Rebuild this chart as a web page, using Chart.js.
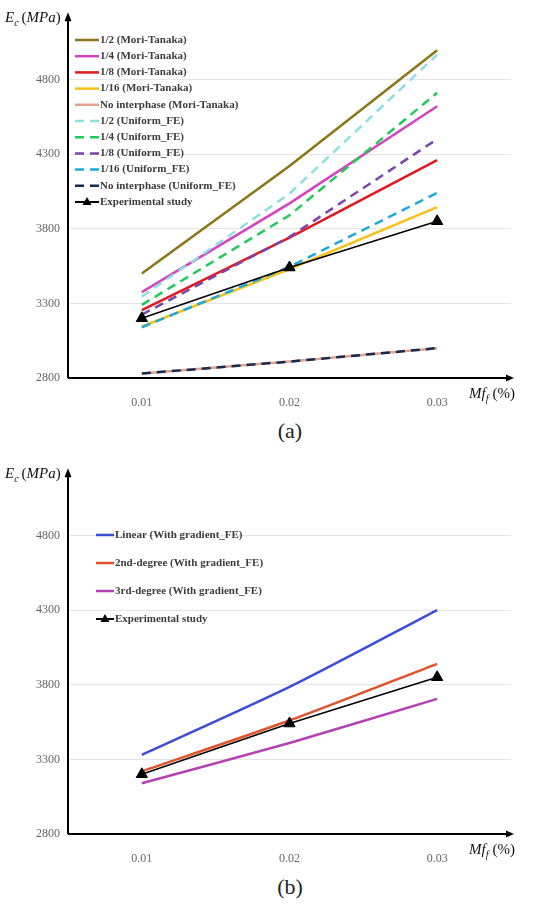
<!DOCTYPE html>
<html>
<head>
<meta charset="utf-8">
<script src="https://cdn.jsdelivr.net/npm/chart.js@4.4.0/dist/chart.umd.min.js"></script>
<style>
  body { margin: 0; background: #fff; width: 536px; height: 904px; position: relative; overflow: hidden; }
  canvas { position: absolute; left: 0; }
  .cap { position: absolute; left: 0; width: 580px; text-align: center; font: 22px "Liberation Serif", serif; color: #222; }
</style>
</head>
<body>
<canvas id="chartA" width="536" height="410" style="top:0"></canvas>
<div class="cap" style="top:418px">(a)</div>
<canvas id="chartB" width="536" height="410" style="top:456px"></canvas>
<div class="cap" style="top:874px">(b)</div>
<script>
// valores (MPa)
const categories = ['0.01', '0.02', '0.03'];
const yTicks = [2800, 3300, 3800, 4300, 4800];

// (a) Mori-Tanaka y Uniform_FE
const mt12 = [3500, 4220, 4995];
const mt14 = [3375, 3970, 4620];
const mt18 = [3255, 3740, 4260];
const mt116 = [3145, 3530, 3945];
const mtNone = [2830, 2910, 3000];
const fe12 = [3345, 4035, 4965];
const fe14 = [3290, 3890, 4710];
const fe18 = [3225, 3745, 4400];
const fe116 = [3140, 3545, 4040];
const feNone = [2830, 2910, 3000];
const experimental = [3200, 3540, 3850];

// (b) With gradient_FE
const linearFE = [3330, 3785, 4300];
const secondFE = [3220, 3560, 3940];
const thirdFE = [3140, 3410, 3705];

const serif = '"Liberation Serif", "DejaVu Serif", serif';

function solid(label, data, color, order) {
  return { label, data, borderColor: color, backgroundColor: color, borderWidth: 2.5, pointRadius: 0, order };
}
function dashed(label, data, color, order) {
  return { label, data, borderColor: color, backgroundColor: color, borderWidth: 2.5, borderDash: [9, 6], pointRadius: 0, order };
}
function expSet() {
  return {
    label: 'Experimental study', data: experimental, borderColor: '#000', backgroundColor: '#000',
    borderWidth: 1.5, pointStyle: 'triangle', pointRadius: 6.5, pointBorderWidth: 1, order: 0, tension: 0
  };
}

// ejes con flechas, títulos y leyenda dentro del área
const decoPlugin = {
  id: 'deco',
  beforeDatasetsDraw(chart) {
    const { ctx, chartArea } = chart;
    const y0 = chart.scales.y.getPixelForValue(2800);
    ctx.save();
    ctx.strokeStyle = '#000';
    ctx.fillStyle = '#000';
    ctx.lineWidth = 2;
    ctx.beginPath();
    ctx.moveTo(chartArea.left, y0);
    ctx.lineTo(chartArea.right - 2, y0);
    ctx.moveTo(chartArea.left, y0);
    ctx.lineTo(chartArea.left, chartArea.top + 4);
    ctx.stroke();
    // flechas
    ctx.beginPath();
    ctx.moveTo(chartArea.right + 3, y0);
    ctx.lineTo(chartArea.right - 5, y0 - 3.5);
    ctx.lineTo(chartArea.right - 5, y0 + 3.5);
    ctx.closePath();
    ctx.fill();
    ctx.beginPath();
    ctx.moveTo(chartArea.left, chartArea.top - 3);
    ctx.lineTo(chartArea.left - 3.5, chartArea.top + 6);
    ctx.lineTo(chartArea.left + 3.5, chartArea.top + 6);
    ctx.closePath();
    ctx.fill();

    // E_c (MPa)
    ctx.fillStyle = '#111';
    ctx.textBaseline = 'alphabetic';
    let x = 5;
    const by = 22;
    ctx.font = 'italic 15px ' + serif;
    ctx.fillText('E', x, by); x += ctx.measureText('E').width;
    ctx.font = 'italic 10px ' + serif;
    ctx.fillText('c', x, by + 4); x += ctx.measureText('c').width + 3;
    ctx.font = '15px ' + serif;
    ctx.fillText('(', x, by); x += ctx.measureText('(').width;
    ctx.font = 'italic 15px ' + serif;
    ctx.fillText('MPa', x, by); x += ctx.measureText('MPa').width;
    ctx.font = '15px ' + serif;
    ctx.fillText(')', x, by);

    // Mf_f (%)
    x = 469;
    const bx = y0 + 20;
    ctx.font = 'italic 15px ' + serif;
    ctx.fillText('Mf', x, bx); x += ctx.measureText('Mf').width;
    ctx.font = 'italic 10px ' + serif;
    ctx.fillText('f', x, bx + 4); x += ctx.measureText('f').width + 4;
    ctx.font = '15px ' + serif;
    ctx.fillText('(%)', x, bx);
    ctx.restore();
  },
  afterDraw(chart, args, opts) {
    const { ctx } = chart;
    ctx.save();
    ctx.font = 'bold 11px ' + serif;
    ctx.textBaseline = 'middle';
    chart.data.datasets.forEach((ds, i) => {
      const y = opts.y + i * opts.gap;
      const x = opts.x;
      ctx.strokeStyle = ds.borderColor;
      ctx.lineWidth = ds.pointStyle ? 2 : ds.borderWidth;
      ctx.setLineDash(ds.borderDash || []);
      ctx.beginPath();
      ctx.moveTo(x, y);
      ctx.lineTo(x + opts.len, y);
      ctx.stroke();
      ctx.setLineDash([]);
      if (ds.pointStyle === 'triangle') {
        const cx = x + opts.len / 2;
        ctx.fillStyle = '#000';
        ctx.beginPath();
        ctx.moveTo(cx, y - 5);
        ctx.lineTo(cx - 4.5, y + 3);
        ctx.lineTo(cx + 4.5, y + 3);
        ctx.closePath();
        ctx.fill();
      }
      ctx.fillStyle = '#3c3c3c';
      ctx.fillText(ds.label, x + opts.len + 1, y);
    });
    ctx.restore();
  }
};

function makeChart(id, datasets, legend, tension) {
  return new Chart(document.getElementById(id), {
    type: 'line',
    data: { labels: categories, datasets },
    options: {
      responsive: false,
      animation: false,
      layout: { padding: { top: 5, right: 25, left: 0, bottom: 0 } },
      elements: { line: { tension } },
      plugins: { legend: { display: false }, tooltip: { enabled: false }, deco: legend },
      scales: {
        x: {
          offset: true,
          grid: { display: false },
          border: { display: false },
          ticks: { color: '#666', font: { family: serif, size: 12 }, padding: 10 },
          afterFit: s => { s.height = 32; }
        },
        y: {
          min: 2800,
          max: 5230,
          afterBuildTicks: s => { s.ticks = yTicks.map(v => ({ value: v })); },
          afterFit: s => { s.width = 68; },
          grid: {
            drawTicks: false,
            color: c => (c.tick && c.tick.value === 2800 ? 'rgba(0,0,0,0)' : '#e4e4e4')
          },
          border: { display: false },
          ticks: { color: '#666', font: { family: serif, size: 12 }, padding: 8, callback: v => String(v) }
        }
      }
    },
    plugins: [decoPlugin]
  });
}

makeChart('chartA', [
  solid('1/2 (Mori-Tanaka)', mt12, '#8c7518', 2),
  solid('1/4 (Mori-Tanaka)', mt14, '#d443c0', 2),
  solid('1/8 (Mori-Tanaka)', mt18, '#e01a1e', 2),
  solid('1/16 (Mori-Tanaka)', mt116, '#f6c11c', 2),
  solid('No interphase (Mori-Tanaka)', mtNone, '#e2a08e', 2),
  dashed('1/2 (Uniform_FE)', fe12, '#8ddfe0', 1),
  dashed('1/4 (Uniform_FE)', fe14, '#22c95a', 1),
  dashed('1/8 (Uniform_FE)', fe18, '#7a46ae', 1),
  dashed('1/16 (Uniform_FE)', fe116, '#1ea8dc', 1),
  dashed('No interphase (Uniform_FE)', feNone, '#172a52', 1),
  expSet()
], { x: 75, y: 40, gap: 16.2, len: 24 }, 0);

makeChart('chartB', [
  solid('Linear (With gradient_FE)', linearFE, '#3b4fd6', 1),
  solid('2nd-degree (With gradient_FE)', secondFE, '#e0522c', 1),
  solid('3rd-degree (With gradient_FE)', thirdFE, '#b343b0', 1),
  expSet()
], { x: 96, y: 79, gap: 28, len: 18 }, 0.25);
</script>
</body>
</html>
